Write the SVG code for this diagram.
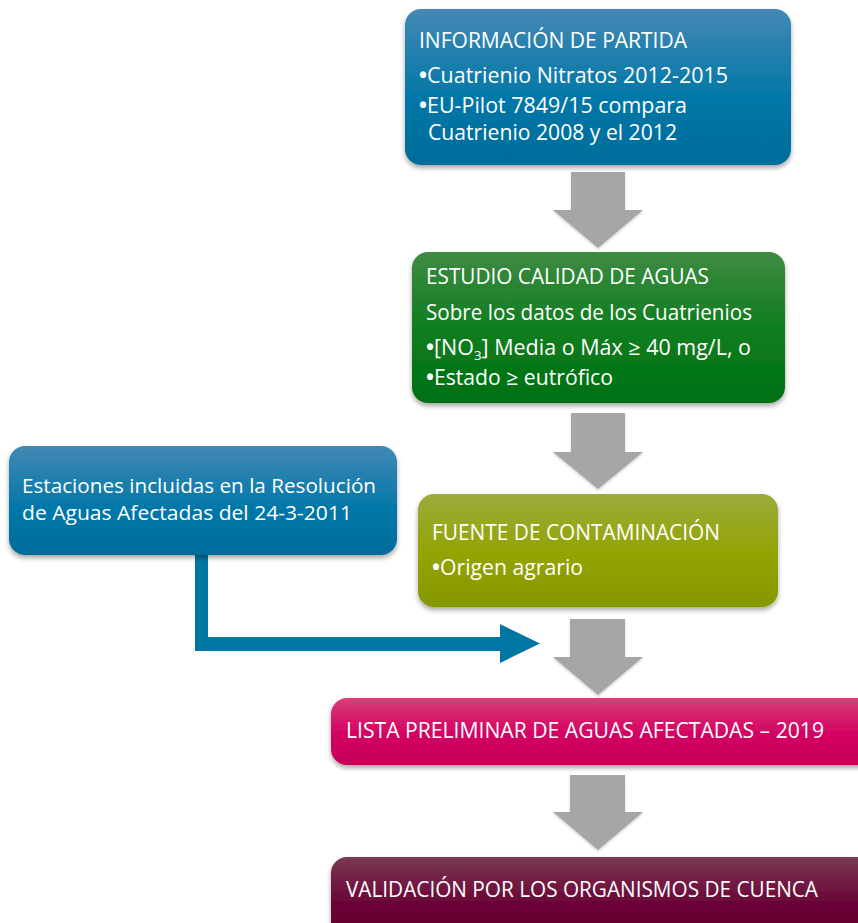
<svg xmlns="http://www.w3.org/2000/svg" width="858" height="923" viewBox="0 0 858 923">
<defs>
<linearGradient id="gBlue" x1="0" y1="0" x2="0" y2="1"><stop offset="0" stop-color="#4388b4"/><stop offset="0.55" stop-color="#0478a8"/><stop offset="1" stop-color="#006c9a"/></linearGradient>
<linearGradient id="gGreen" x1="0" y1="0" x2="0" y2="1"><stop offset="0" stop-color="#3f8a42"/><stop offset="0.55" stop-color="#0b7c1c"/><stop offset="1" stop-color="#007014"/></linearGradient>
<linearGradient id="gOlive" x1="0" y1="0" x2="0" y2="1"><stop offset="0" stop-color="#9cab3c"/><stop offset="0.55" stop-color="#93a300"/><stop offset="1" stop-color="#869600"/></linearGradient>
<linearGradient id="gPink" x1="0" y1="0" x2="0" y2="1"><stop offset="0" stop-color="#d83f76"/><stop offset="0.55" stop-color="#d40062"/><stop offset="1" stop-color="#c40058"/></linearGradient>
<linearGradient id="gMaroon" x1="0" y1="0" x2="0" y2="1"><stop offset="0" stop-color="#7a3a52"/><stop offset="0.55" stop-color="#6a0034"/><stop offset="1" stop-color="#62002e"/></linearGradient>
<filter id="sh" x="-10%" y="-10%" width="120%" height="130%"><feDropShadow dx="0" dy="3" stdDeviation="2.5" flood-color="#000" flood-opacity="0.35"/></filter>
<filter id="sha" x="-20%" y="-20%" width="140%" height="140%"><feDropShadow dx="0" dy="1.5" stdDeviation="1" flood-color="#000" flood-opacity="0.2"/></filter>
<style>
text{font-family:"Open Sans","Liberation Sans",sans-serif;fill:#ffffff;font-size:21px}
.sm{font-size:20px}
.b{font-weight:bold}
.garrow{fill:#a6a6a6}
</style>
</defs>

<g id="connectors">
<path class="garrow" filter="url(#sha)" d="M571,172 H625 V210 H643 L598,248 L553,210 H571 Z"/>
<path class="garrow" filter="url(#sha)" d="M571,413 H625 V452 H643 L598,489 L553,452 H571 Z"/>
<path class="garrow" filter="url(#sha)" d="M570,619 H625 V657 H643 L598,695 L553,657 H570 Z"/>
<path class="garrow" filter="url(#sha)" d="M570,775 H625 V812 H643 L598,850 L553,812 H570 Z"/>
<path d="M195,555 H208 V637 H500 V624 L540,643.5 L500,663 V651 H195 Z" fill="#0077a2"/>
</g>

<g id="node-informacion">
<rect x="405" y="9" width="386" height="156" rx="16" fill="url(#gBlue)" filter="url(#sh)"/>
<text x="419" y="48" textLength="268" lengthAdjust="spacingAndGlyphs">INFORMACIÓN DE PARTIDA</text>
<text x="419" y="83" textLength="309" lengthAdjust="spacingAndGlyphs"><tspan class="b">•</tspan>Cuatrienio Nitratos 2012-2015</text>
<text x="419" y="113" textLength="268" lengthAdjust="spacingAndGlyphs"><tspan class="b">•</tspan>EU-Pilot 7849/15 compara</text>
<text x="428" y="140" textLength="249" lengthAdjust="spacingAndGlyphs">Cuatrienio 2008 y el 2012</text>
</g>

<g id="node-estudio">
<rect x="412" y="252" width="373" height="151" rx="16" fill="url(#gGreen)" filter="url(#sh)"/>
<text x="426" y="284" textLength="283" lengthAdjust="spacingAndGlyphs">ESTUDIO CALIDAD DE AGUAS</text>
<text x="426" y="320" textLength="326" lengthAdjust="spacingAndGlyphs">Sobre los datos de los Cuatrienios</text>
<text x="426" y="355" textLength="325" lengthAdjust="spacingAndGlyphs"><tspan class="b">•</tspan>[NO<tspan font-size="13" dy="5">3</tspan><tspan dy="-5">] Media o Máx ≥ 40 mg/L, o</tspan></text>
<text x="426" y="385" textLength="187" lengthAdjust="spacingAndGlyphs"><tspan class="b">•</tspan>Estado ≥ eutrófico</text>
</g>

<g id="node-estaciones">
<rect x="9" y="446" width="388" height="109" rx="16" fill="url(#gBlue)" filter="url(#sh)"/>
<text class="sm" x="22" y="493" textLength="354" lengthAdjust="spacingAndGlyphs">Estaciones incluidas en la Resolución</text>
<text class="sm" x="22" y="520" textLength="330" lengthAdjust="spacingAndGlyphs">de Aguas Afectadas del 24-3-2011</text>
</g>

<g id="node-fuente">
<rect x="418" y="494" width="360" height="113" rx="16" fill="url(#gOlive)" filter="url(#sh)"/>
<text x="432" y="540" textLength="288" lengthAdjust="spacingAndGlyphs">FUENTE DE CONTAMINACIÓN</text>
<text x="432" y="575" textLength="151" lengthAdjust="spacingAndGlyphs"><tspan class="b">•</tspan>Origen agrario</text>
</g>

<g id="node-lista">
<rect x="331" y="698" width="545" height="67" rx="16" fill="url(#gPink)" filter="url(#sh)"/>
<text x="346" y="738" textLength="478" lengthAdjust="spacingAndGlyphs">LISTA PRELIMINAR DE AGUAS AFECTADAS – 2019</text>
</g>

<g id="node-validacion">
<rect x="331" y="857" width="545" height="90" rx="16" fill="url(#gMaroon)" filter="url(#sh)"/>
<text x="346" y="897" textLength="472" lengthAdjust="spacingAndGlyphs">VALIDACIÓN POR LOS ORGANISMOS DE CUENCA</text>
</g>
</svg>
